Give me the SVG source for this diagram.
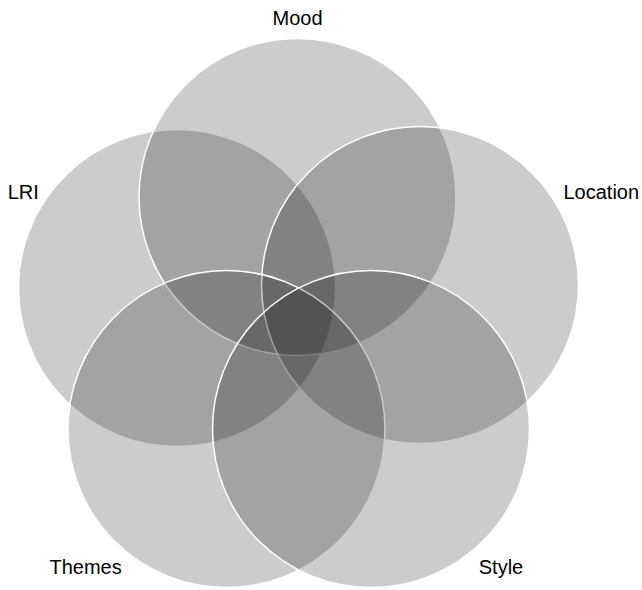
<svg xmlns="http://www.w3.org/2000/svg" width="642" height="590" viewBox="0 0 642 590">
<style>
.set{fill:#000;fill-opacity:0.2;stroke:#fff;stroke-width:1.5}
.lbl{font-family:"Liberation Sans",Arial,sans-serif;font-size:20px;fill:#000}
</style>
<rect width="642" height="590" fill="#fff"/>
<g id="LRI"><circle class="set" cx="177" cy="288" r="158.5"/></g>
<g id="Mood"><circle class="set" cx="297.5" cy="197" r="158.5"/></g>
<g id="Location"><circle class="set" cx="420" cy="285" r="158.5"/></g>
<g id="Themes"><circle class="set" cx="226.5" cy="429" r="158.5"/></g>
<g id="Style"><circle class="set" cx="371" cy="429" r="158.5"/></g>
<g id="connectors"></g>
<g id="labels">
<text class="lbl" x="297.5" y="25" text-anchor="middle">Mood</text>
<text class="lbl" x="23.2" y="198.5" text-anchor="middle">LRI</text>
<text class="lbl" x="601.3" y="198.5" text-anchor="middle">Location</text>
<text class="lbl" x="85.6" y="574" text-anchor="middle">Themes</text>
<text class="lbl" x="501" y="574" text-anchor="middle">Style</text>
</g>
</svg>
